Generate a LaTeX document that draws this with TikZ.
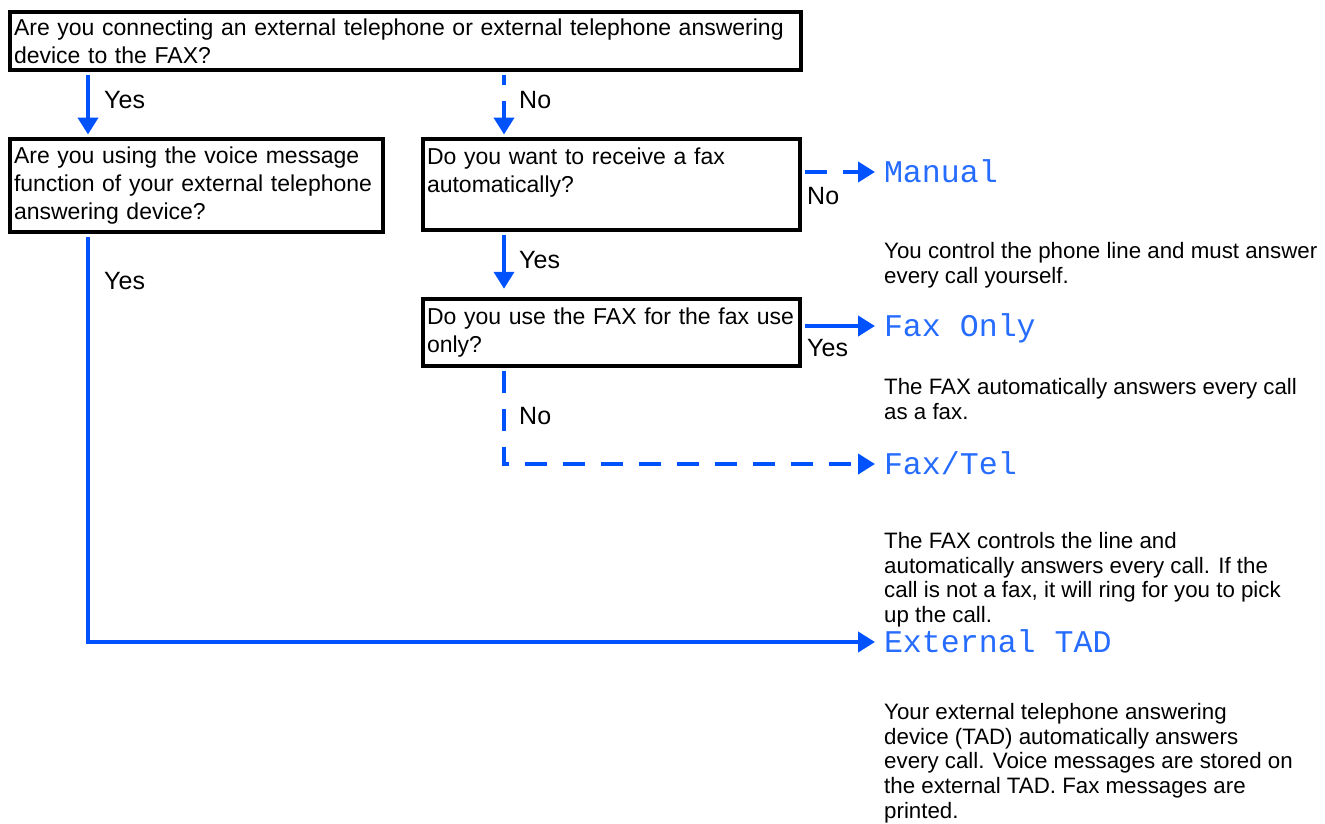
\documentclass[tikz,border=0pt]{standalone}
\usepackage{fontspec}
\setmainfont{Liberation Sans}
\newfontfamily\lcdfont{Liberation Mono}
\usepackage{xcolor}
\usetikzlibrary{arrows.meta, positioning, calc}
\definecolor{flowblue}{RGB}{0,82,255}

\begin{document}
\begin{tikzpicture}[x=1pt, y=-1pt,
  question/.style={rectangle, draw, line width=4.5pt, align=left, inner xsep=4pt,
    inner ysep=0pt, font=\fontsize{23}{28}\selectfont},
  answer/.style={font=\fontsize{25}{30}\selectfont, inner sep=0pt, anchor=base west},
  mode/.style={font=\fontsize{31.6}{34}\lcdfont, text=flowblue!85, inner sep=0pt,
    outer xsep=9pt, text height=20pt, text depth=0pt, anchor=west},
  note/.style={font=\fontsize{22.3}{24.75}\selectfont, align=left, inner sep=0pt, anchor=north west},
  arrow/.style={-{Triangle[length=17pt, width=20pt]}, line width=4pt, flowblue, shorten <=2.25pt},
  dasharrow/.style={arrow, dash pattern=on 22pt off 16pt},
  intobox/.style={shorten >=2.25pt},
]
\useasboundingbox (0,0) rectangle (1325,823);

% questions
\node[question, minimum width=791pt, minimum height=58pt, text width=783pt] (askext) at (405.5,41)
  {\mbox{Are you connecting an external telephone or external telephone answering}\\device to the FAX?};
\node[question, minimum width=373pt, minimum height=93pt, text width=365pt] (askvoice) at (196.5,185.5)
  {Are you using the voice message\\function of your external telephone\\answering device?};
\node[question, minimum width=377pt, minimum height=91pt, text width=369pt] (askauto) at (611.5,184.5)
  {Do you want to receive a fax\\automatically?\\\mbox{}};
\node[question, minimum width=377pt, minimum height=67pt, text width=369pt] (askfaxonly) at (611.5,332.5)
  {\mbox{Do you use the FAX for the fax use}\\only?};

% receive modes
\node[mode] (manual) at (875,172) {Manual};
\node[mode] (faxonly) at (875,326) {Fax Only};
\node[mode] (faxtel) at (875,464) {Fax/Tel};
\node[mode] (exttad) at (875,642) {External TAD};

\node[note] (manualnote) at (884,242) {You control the phone line and must answer\\every call yourself.};
\node[note] (faxonlynote) at (884,378) {The FAX automatically answers every call\\as a fax.};
\node[note] (faxtelnote) at (884,532) {The FAX controls the line and\\automatically answers every call. If the\\call is not a fax, it will ring for you to pick\\up the call.};
\node[note] (exttadnote) at (884,703) {Your external telephone answering\\device (TAD) automatically answers\\every call. Voice messages are stored on\\the external TAD. Fax messages are\\printed.};

\coordinate (leftx) at (88,0);
\coordinate (midx) at (504,0);

% connectors
\draw[arrow, intobox] (askext.south -| leftx) -- (askvoice.north -| leftx);
\draw[dasharrow, intobox, dash phase=12pt] (askext.south -| midx) -- (askauto.north -| midx);
\draw[dasharrow] (askauto.east |- manual.west) -- (manual.west);
\draw[arrow, shorten >=8pt] (askauto.south -| midx) -- (askfaxonly.north -| midx);
\draw[arrow] (askfaxonly.east |- faxonly.west) -- (faxonly.west);
\draw[dasharrow] (askfaxonly.south -| midx) |- (faxtel.west);
\draw[arrow] (askvoice.south -| leftx) |- (exttad.west);

\node[answer] (yesvoice) at (104,108) {Yes};
\node[answer] (noauto) at (519,108) {No};
\node[answer] (nomanual) at (807,204) {No};
\node[answer] (yesauto) at (519,268) {Yes};
\node[answer] (yesfaxonly) at (807,356) {Yes};
\node[answer] (nofaxonly) at (519,424) {No};
\node[answer] (yestad) at (104,289) {Yes};

\end{tikzpicture}
\end{document}
